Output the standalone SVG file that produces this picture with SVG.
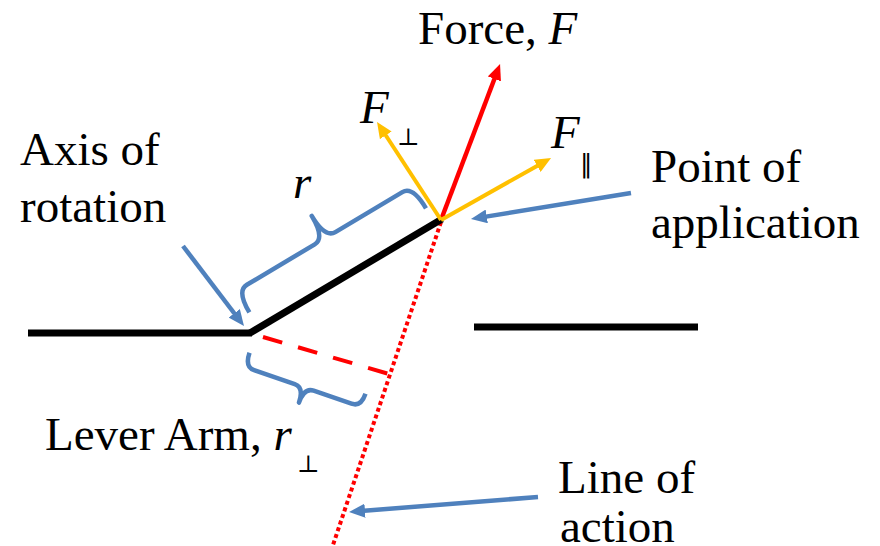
<svg xmlns="http://www.w3.org/2000/svg" width="880" height="546" viewBox="0 0 880 546">
<defs>
<style>
.t{font-size:47px;fill:#000}
.i{font-style:italic}
.bar{stroke:#000;stroke-width:7;fill:none}
.blue{stroke:#4f81bd;stroke-width:4.5;fill:none}
.brace{stroke:#4f81bd;stroke-width:4.5;fill:none;stroke-linejoin:round}
.red{stroke:#ff0000;stroke-width:4.5;fill:none}
.yel{stroke:#ffc000;stroke-width:4;fill:none}
</style>
<marker id="hb" viewBox="0 0 16 14" refX="4" refY="7" markerWidth="16" markerHeight="14" markerUnits="userSpaceOnUse" orient="auto"><path d="M0,0 L16,7 L0,14 z" fill="#4f81bd"/></marker>
<marker id="hr" viewBox="0 0 16 14" refX="4" refY="7" markerWidth="16" markerHeight="14" markerUnits="userSpaceOnUse" orient="auto"><path d="M0,0 L16,7 L0,14 z" fill="#ff0000"/></marker>
<marker id="hy" viewBox="0 0 16 14" refX="4" refY="7" markerWidth="16" markerHeight="14" markerUnits="userSpaceOnUse" orient="auto"><path d="M0,0 L16,7 L0,14 z" fill="#ffc000"/></marker>
</defs>
<rect width="880" height="546" fill="#fff"/>

<g id="surface-left"><line class="bar" x1="28" y1="333" x2="252" y2="333"/></g>
<g id="surface-right"><line class="bar" x1="474" y1="327" x2="698" y2="327"/></g>

<g id="connectors">
<line id="line-of-action" x1="441" y1="222" x2="332" y2="548" stroke="#ff0000" stroke-width="4" stroke-dasharray="4 3"/>
<line id="lever-arm-line" x1="263" y1="337" x2="389" y2="374" stroke="#ff0000" stroke-width="4" stroke-dasharray="20 16.5"/>
<line id="lever" class="bar" x1="250" y1="333" x2="442" y2="219"/>
<line id="force" class="red" x1="441" y1="220" x2="495.8" y2="75.2" marker-end="url(#hr)"/>
<line id="f-perp" class="yel" x1="441" y1="220" x2="383.6" y2="132" marker-end="url(#hy)"/>
<line id="f-par" class="yel" x1="441" y1="220" x2="540.6" y2="163.9" marker-end="url(#hy)"/>
<line id="arrow-axis" class="blue" x1="183" y1="246" x2="236.7" y2="316.5" marker-end="url(#hb)"/>
<line id="arrow-point" class="blue" x1="631" y1="193" x2="482.8" y2="217.1" marker-end="url(#hb)"/>
<line id="arrow-line" class="blue" x1="538" y1="497" x2="361" y2="511" marker-end="url(#hb)"/>
<path id="brace-r" class="brace" transform="translate(250,333) rotate(-30.8)" d="M10,-18 Q10,-43 22,-43 L101,-43 Q113,-43 113,-69 Q113,-43 125,-43 L203,-43 Q215,-43 215,-17"/>
<path id="brace-arm" class="brace" transform="translate(250,336) rotate(19)" d="M5,16 Q5,31 15,31 L58,31 Q68,31 68,47 Q68,31 78,31 L118,31 Q128,31 128,17"/>
</g>

<g id="labels" font-family="Liberation Serif, Times New Roman, serif">
<g id="label-force"><text class="t" x="418" y="44">Force, <tspan class="i">F</tspan></text></g>
<g id="label-fperp"><text class="t i" x="360" y="123">F</text><text font-family="DejaVu Serif, serif" x="397" y="145" font-size="24">⊥</text></g>
<g id="label-fpar"><text class="t i" x="551" y="148">F</text><text font-family="DejaVu Sans, sans-serif" x="580" y="173" font-size="26">∥</text></g>
<g id="label-r"><text class="t i" x="293" y="198">r</text></g>
<g id="label-axis"><text class="t" x="20" y="165">Axis of</text><text class="t" x="20" y="222">rotation</text></g>
<g id="label-point"><text class="t" x="651" y="182">Point of</text><text class="t" x="651" y="238">application</text></g>
<g id="label-arm"><text class="t" x="45" y="450">Lever Arm, <tspan class="i">r</tspan></text><text font-family="DejaVu Serif, serif" x="297" y="472" font-size="24">⊥</text></g>
<g id="label-line"><text class="t" x="558" y="493">Line of</text><text class="t" x="560" y="542">action</text></g>
</g>
</svg>
